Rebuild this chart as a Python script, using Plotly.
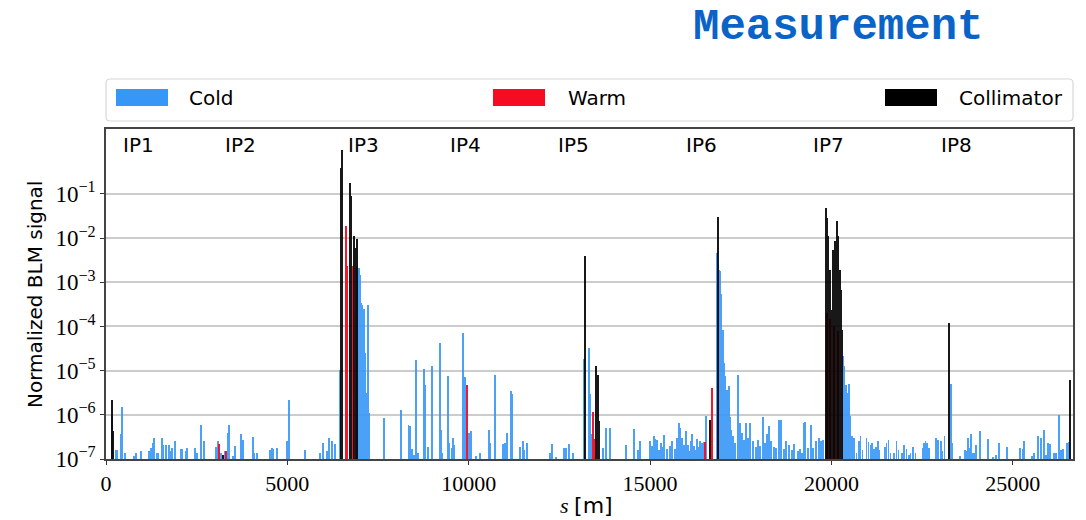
import plotly.graph_objects as go

# ---------------- data ----------------
cold_s = [170, 276, 313, 405, 423, 441, 533, 772, 819, 957, 1177, 1232, 1287, 1324, 1398, 1444,
          1536, 1582, 1655, 1747, 1784, 1830, 1903, 2060, 2106, 2198, 2234, 2446, 2520, 2621, 2713,
          3034, 3080, 3163, 3292, 3356, 3384, 3494, 3568, 3715, 3770, 4046, 4083, 4175, 4524, 4570,
          4616, 4727, 4984, 5057, 5490, 5903, 5977, 6105, 6160, 6234, 6326,
          6455, 6925, 6950, 6975, 7000, 7025, 7050, 7075, 7100, 7125, 7150, 7175, 7200, 7228, 7255,
          7660, 8129, 8147, 8340, 8386, 8441, 8497, 8552, 8589, 8772, 8809, 8865, 8993, 9205, 9232,
          9269, 9425, 9453, 9527, 9573, 9600, 9848, 9894, 10005, 10060, 10207, 10317, 10557, 10593,
          10722, 10933, 10998, 11025, 11053, 11154, 11182, 11402, 11494, 11531, 11605, 12229, 12285,
          12414, 12616, 12690, 12763, 12874, 13167, 13314, 13333, 13379, 13701, 13793, 13885, 14326,
          14566, 14676, 14713, 14988, 15053, 15099, 15136, 15191, 15237, 15301, 15357, 15393,
          15467, 15540, 15614, 15688, 15743, 15789, 15835, 15871, 15927, 15982, 16037, 16092, 16129,
          16166, 16203, 16258, 16295, 16350, 16386, 16441, 16497, 16552, 16846, 16892, 16920, 16966,
          17002, 17030, 17076, 17122, 17168, 17196, 17232, 17288, 17352, 17416, 17471, 17536, 17600,
          17655, 17710, 17766, 17839, 17913, 17968, 18042, 18115, 18170, 18225, 18281, 18336, 18410,
          18483, 18547, 18612, 18685, 18759, 18832, 18915, 18961, 19071, 19145, 19191, 19255, 19283,
          19347, 19439, 19494, 19586, 19651, 19715, 19770, 20322, 20359, 20396, 20441, 20487, 20524,
          20570, 20616, 20690, 20754, 20800, 20855, 20966, 21021, 21076, 21122, 21168, 21223, 21278,
          21315, 21481, 21517, 21572, 21628, 21720, 21793, 21848, 21950, 21995, 22069, 22133, 22179,
          22253, 22317, 22510, 22547, 22593, 22639, 22685, 22878, 22933, 23053, 23117, 23025, 23292,
          23320, 23540, 23669, 23706, 23761, 23798, 23853, 23890, 23927, 23982, 24092, 24313, 24460,
          24533, 24625, 24846, 25195, 25269, 25306, 25526, 25582, 25692, 25766, 25857, 25913, 25968,
          26023, 26133, 26188, 26280, 26336, 26372, 26501, 26538]
cold_v = [9.5e-7, 1.6e-7, 1.6e-7, 2.3e-7, 3.6e-7, 1.5e-6, 1.4e-7, 1.2e-7, 1.4e-7, 1.5e-7, 1.5e-7, 1.8e-7, 2.3e-7, 3.0e-7, 1.4e-7, 1.4e-7,
          3.0e-7, 2.1e-7, 2.1e-7, 2.1e-7, 1.5e-7, 1.8e-7, 2.5e-7, 1.7e-7, 1.7e-7, 1.5e-7, 1.8e-7, 1.8e-7, 1.4e-7, 5.8e-7, 2.5e-7,
          1.9e-7, 2.5e-7, 1.4e-7, 1.5e-7, 3.9e-7, 6.0e-7, 1.2e-7, 2.0e-7, 3.6e-7, 2.7e-7, 3.2e-7, 1.4e-7, 1.4e-7, 1.6e-7, 1.8e-7,
          1.7e-7, 1.8e-7, 2.5e-7, 2.2e-6, 1.6e-7, 1.4e-7, 2.3e-7, 1.5e-7, 3.0e-7, 2.5e-7, 2.2e-7,
          1.05e-5, 2.2e-3, 2.0e-3, 2.1e-3, 1.5e-3, 3.4e-4, 3.0e-4, 2.0e-4, 2.5e-4, 1.0e-4, 2.5e-5, 9.3e-7, 3.2e-6, 3.0e-4, 1.1e-6,
          8.5e-7, 1.3e-6, 5.5e-7, 6.0e-7, 5.5e-7, 1.7e-7, 1.25e-7, 1.7e-5, 1.4e-7, 1.1e-5, 4.8e-6, 1.9e-7, 1.3e-5, 4.3e-5, 4.6e-7,
          1.4e-7, 7.4e-6, 2.3e-7, 1.8e-7, 3.0e-7, 2.1e-7, 7.1e-5, 7.2e-6, 3.9e-7, 4.2e-7, 1.2e-7, 1.4e-7, 4.6e-7, 2.3e-7,
          8.1e-6, 2.2e-7, 2.3e-7, 1.4e-7, 3.9e-7, 3.4e-6, 2.9e-6, 1.9e-7, 2.5e-7, 1.6e-7, 2.3e-7, 1.4e-7, 2.2e-7,
          1.1e-7, 1.8e-7, 1.8e-7, 2.2e-7, 1.4e-7, 1.8e-5, 3.2e-5, 2.9e-6, 3.7e-7, 1.8e-7, 5.0e-7, 5.0e-7, 2.1e-7,
          4.8e-7, 1.6e-7, 2.5e-7, 2.5e-7, 2.0e-7, 3.3e-7, 2.9e-7, 2.7e-7, 1.6e-7, 2.3e-7, 1.9e-7, 3.5e-7,
          1.7e-7, 2.0e-7, 2.5e-7, 1.7e-7, 3.0e-7, 6.5e-7, 5.0e-7, 3.0e-7, 2.1e-7, 4.2e-7, 2.1e-7, 1.5e-7, 2.5e-7,
          3.6e-7, 2.0e-7, 1.6e-7, 2.8e-7, 1.9e-7, 2.5e-7, 2.3e-7, 2.4e-7, 9.3e-7, 4.6e-3, 1.9e-3, 1.8e-3, 5.5e-4,
          8.5e-5, 1.5e-5, 7.4e-6, 3.7e-6, 4.5e-6, 9.1e-7, 4.6e-7, 3.3e-7, 2.3e-7, 8.1e-6, 6.5e-7, 3.9e-7, 2.7e-7,
          6.5e-7, 3.0e-7, 6.5e-7, 2.5e-7, 1.9e-7, 2.7e-7, 2.0e-7, 8.9e-7, 2.3e-7, 3.6e-7, 5.5e-7, 2.5e-7, 1.9e-7,
          1.8e-7, 7.8e-7, 7.8e-7, 1.7e-7, 2.5e-7, 2.1e-7, 1.6e-7, 2.2e-7, 1.5e-7, 1.7e-7, 1.4e-7, 6.5e-7, 6.8e-7,
          1.8e-7, 6.0e-7, 1.8e-7, 2.5e-7, 3.0e-7, 2.5e-7, 2.7e-7, 2.1e-5, 1.25e-5, 4.8e-6, 3.2e-6, 5.1e-6, 9.3e-7,
          3.3e-7, 3.0e-7, 1.4e-7, 2.5e-7, 3.3e-7, 1.6e-7, 3.0e-7, 2.4e-7, 2.1e-7, 2.3e-7, 1.7e-7, 1.9e-7, 2.5e-7,
          1.6e-7, 1.9e-7, 2.3e-7, 2.7e-7, 1.4e-7, 1.4e-7, 2.6e-7, 1.6e-7, 1.4e-7, 2.1e-7, 1.7e-7, 1.25e-7, 1.4e-7,
          1.9e-7, 1.4e-7, 1.8e-7, 2.3e-7, 2.5e-7, 2.3e-7, 1.8e-7, 3.0e-7, 2.7e-7, 1.5e-7, 3.3e-7, 2.5e-7, 5.1e-6,
          2.3e-7, 1.2e-7, 1.6e-7, 1.5e-7, 3.0e-7, 1.8e-7, 3.7e-7, 1.4e-7, 1.4e-7, 2.1e-7, 4.2e-7, 2.9e-7, 1.1e-7,
          1.25e-7, 2.3e-7, 1.9e-7, 1.8e-7, 1.7e-7, 2.5e-7, 1.2e-7, 1.4e-7, 3.4e-7, 3.0e-7, 4.6e-7, 1.25e-7, 2.3e-7,
          2.2e-7, 1.4e-7, 1.4e-7, 1.0e-6, 1.6e-7, 1.7e-7, 2.3e-7, 2.4e-7]

warm_s = [3117, 3310, 6621, 6640, 6805, 9968, 13425, 13443, 16515, 16708, 19880, 19960, 20060, 20180]
warm_v = [2.2e-7, 1.5e-7, 1.9e-2, 2.3e-3, 2.3e-3, 4.8e-6, 1.15e-6, 2.8e-7, 2.4e-7, 4.0e-6, 2.0e-4, 1.5e-4, 1.0e-4, 8.0e-5]

coll_s = [160, 195, 3237, 6492, 6520, 6731, 6768, 6841, 6880, 6915, 13195, 13204, 13517, 13554, 13590,
          16662, 16864, 19844, 19881, 19917, 19963, 19991, 20037, 20110, 20156, 20193, 20239, 20267,
          20304, 23255, 26580, 26593]
coll_v = [2.2e-6, 4.2e-7, 1.25e-7, 0.39, 1.0, 0.18, 0.089, 1.1e-2, 6.0e-3, 9.6e-3, 1.3e-6, 3.9e-3, 1.26e-5, 8.1e-6, 7.1e-7,
          7.7e-7, 3.0e-2, 4.8e-2, 2.9e-2, 1.1e-2, 1.9e-3, 2.4e-4, 5.5e-3, 8.5e-3, 2.5e-2, 1.1e-2, 1.9e-3, 6.8e-4,
          8.5e-5, 1.2e-4, 1.5e-6, 6.0e-6]

ip_labels = ["IP1", "IP2", "IP3", "IP4", "IP5", "IP6", "IP7", "IP8"]
ip_s = [883, 3696, 7090, 9903, 12882, 16413, 19917, 23448]

series_names = ["Cold", "Warm", "Collimator"]
series_colors = ["#3797f7", "#f50c22", "#000000"]

x_ticks = [0, 5000, 10000, 15000, 20000, 25000]
y_exps = [-7, -6, -5, -4, -3, -2, -1]
circumference = 26659

# ---------------- figure ----------------
fig = go.Figure()
widths = [26, 32, 34]
opac = [0.9, 0.95, 0.9]
for name, xs, ys, col, w, op in zip(series_names, [cold_s, warm_s, coll_s], [cold_v, warm_v, coll_v],
                                    series_colors, widths, opac):
    fig.add_trace(go.Bar(x=xs, y=ys, name=name, width=[w] * len(xs), opacity=op,
                         marker=dict(color=col, line=dict(width=0)), showlegend=False))

SANS = "DejaVu Sans"
SERIF = "Liberation Serif"

fig.update_layout(
    width=1086, height=520,
    margin=dict(l=106, r=13, t=129, b=61),
    paper_bgcolor="white", plot_bgcolor="white",
    barmode="overlay", bargap=0,
    xaxis=dict(range=[0, circumference], tickmode="array", tickvals=x_ticks,
               ticktext=[str(v) for v in x_ticks],
               showgrid=False, zeroline=False, showline=True, mirror=True,
               linecolor="#444444", linewidth=1.5, ticks="outside", ticklen=4, tickcolor="#333",
               tickfont=dict(family=SERIF, size=22, color="black")),
    yaxis=dict(type="log", range=[-7, 0.47], tickmode="array",
               tickvals=[10.0 ** e for e in y_exps],
               ticktext=["10<sup>\u2212%d</sup>" % (-e) for e in y_exps],
               showgrid=True, gridcolor="#cccccc", gridwidth=1.5, zeroline=False,
               showline=True, mirror=True, linecolor="#444444", linewidth=1.5,
               ticks="outside", ticklen=4, tickcolor="#333",
               tickfont=dict(family=SERIF, size=23, color="black")),
)

# IP labels
for lab, s in zip(ip_labels, ip_s):
    fig.add_annotation(x=s, y=0.9515, xref="x", yref="paper", text=lab, showarrow=False,
                       xanchor="center", yanchor="middle", font=dict(family=SANS, size=20, color="black"))

# axis titles
fig.add_annotation(x=-0.0734, y=0.497, xref="paper", yref="paper", text="Normalized BLM signal",
                   textangle=-90, showarrow=False, xanchor="center", yanchor="middle",
                   font=dict(family=SANS, size=20, color="black"))
fig.add_annotation(x=0.497, y=-0.142, xref="paper", yref="paper",
                   text="<i>s</i> <span style='font-family:DejaVu Sans'>[m]</span>",
                   showarrow=False, xanchor="center", yanchor="middle",
                   font=dict(family=SERIF, size=22, color="black"))

# title
fig.add_annotation(x=0.757, y=(459 - 27) / 330.0, xref="paper", yref="paper", text="<b>Measurement</b>",
                   showarrow=False, xanchor="center", yanchor="middle",
                   font=dict(family="Liberation Mono", size=44, color="#0a64c8"))

# legend box (manual, full width like matplotlib mode='expand')
PW, PH = 967.0, 330.0
def px2paper(px, py):
    return (px - 106) / PW, (459 - py) / PH

x0, y0 = px2paper(106, 121)
x1, y1 = px2paper(1073, 79)
rx, ry = 4 / PW, 4 / PH
path = (f"M {x0+rx},{y1} L {x1-rx},{y1} Q {x1},{y1} {x1},{y1-ry} L {x1},{y0+ry} "
        f"Q {x1},{y0} {x1-rx},{y0} L {x0+rx},{y0} Q {x0},{y0} {x0},{y0+ry} L {x0},{y1-ry} "
        f"Q {x0},{y1} {x0+rx},{y1} Z")
fig.add_shape(type="path", path=path, xref="paper", yref="paper",
              line=dict(color="#d8d8d8", width=1.2), fillcolor="white", layer="above")

swatch_left = [116, 493, 885]
text_left = [187, 566, 957]
for name, col, sl, tl in zip(series_names, series_colors, swatch_left, text_left):
    a0, b0 = px2paper(sl, 106)
    a1, b1 = px2paper(sl + 52, 89)
    fig.add_shape(type="rect", xref="paper", yref="paper", x0=a0, x1=a1, y0=b0, y1=b1,
                  fillcolor=col, line=dict(width=0), layer="above")
    tx, ty = px2paper(tl, 98)
    fig.add_annotation(x=tx, y=ty, xref="paper", yref="paper", text=name, showarrow=False,
                       xanchor="left", yanchor="middle", font=dict(family=SANS, size=20, color="black"))

fig.write_html("out.html")
